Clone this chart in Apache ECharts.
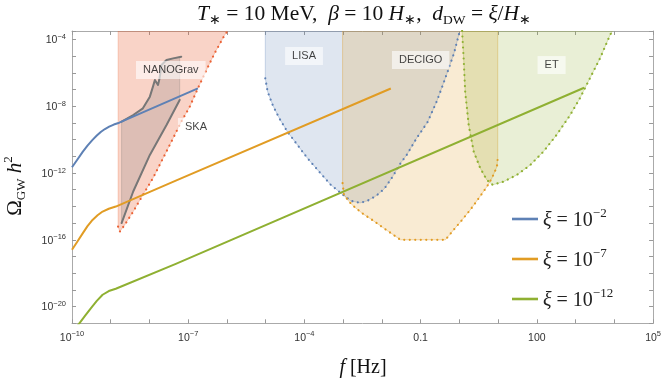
<!DOCTYPE html>
<html><head><meta charset="utf-8">
<script src="https://cdn.jsdelivr.net/npm/echarts@6/dist/echarts.min.js"></script>
<style>html,body{margin:0;padding:0;background:#fff}#c{width:664px;height:386px}</style>
</head><body><div id="c"></div>
<script>
// All values are log10: [log10(f / Hz), log10(Omega_GW h^2)]
const curveXi2  = [[-10,-11.66],[-9.86,-11.19],[-9.72,-10.72],[-9.6,-10.36],[-9.47,-10.02],[-9.36,-9.76],[-9.25,-9.53],[-9.15,-9.37],[-9.04,-9.23],[-8.92,-9.1],[-8.78,-8.99],[-6.75,-6.94]];
const curveXi7  = [[-10,-16.6],[-9.86,-16.1],[-9.72,-15.6],[-9.6,-15.18],[-9.47,-14.81],[-9.34,-14.53],[-9.21,-14.31],[-9.05,-14.14],[-8.87,-14.01],[-7.32,-12.46],[-1.77,-6.94]];
const curveXi12 = [[-10,-21.57],[-9.81,-21.0],[-9.66,-20.54],[-9.51,-20.09],[-9.36,-19.66],[-9.21,-19.29],[-9.05,-19.07],[-8.87,-18.93],[-7.32,-17.44],[3.22,-6.9]];
const legendExponents = ['−2','−7','−12'];

const skaRegion = [[-8.81,-3.5],[-8.81,-15.21],[-8.765,-15.51],[-8.64,-15.11],[-8.42,-14.31],[-8.17,-13.31],[-7.91,-12.31],[-7.65,-11.12],[-7.39,-9.92],[-7.18,-8.93],[-6.96,-8.03],[-6.75,-6.93],[-6.53,-5.84],[-6.32,-4.84],[-6.06,-3.74],[-5.98,-3.5]];
const nanogravUpper = [[-8.72,-8.93],[-8.42,-8.53],[-8.17,-8.13],[-7.99,-7.43],[-7.91,-6.83],[-7.86,-6.43],[-7.78,-6.73],[-7.74,-6.33],[-7.69,-5.54],[-7.56,-5.24],[-7.39,-5.14],[-7.18,-5.04]];
const nanogravLower = [[-8.72,-15.0],[-8.42,-13.11],[-7.99,-10.92],[-7.56,-9.13],[-7.22,-7.63]];
const lisaRegion = [[-5.01,-3.5],[-5.01,-6.33],[-4.95,-7.13],[-4.82,-7.93],[-4.65,-8.72],[-4.44,-9.53],[-4.18,-10.32],[-3.92,-11.12],[-3.62,-11.92],[-3.32,-12.71],[-3.02,-13.28],[-2.80,-13.67],[-2.56,-13.79],[-2.38,-13.67],[-2.15,-13.37],[-1.94,-12.95],[-1.73,-12.24],[-1.52,-11.42],[-1.36,-10.92],[-1.10,-9.90],[-0.82,-8.95],[-0.57,-7.63],[-0.35,-6.24],[-0.14,-4.84],[0.01,-3.5]];
const decigoRegion = [[-3.015,-3.5],[-3.015,-12.61],[-2.98,-13.31],[-2.85,-13.71],[-2.72,-14.01],[-2.51,-14.41],[-2.25,-14.81],[-1.99,-15.24],[-1.73,-15.66],[-1.52,-16.0],[-0.36,-16.0],[-0.15,-15.41],[0.07,-14.81],[0.28,-14.21],[0.50,-13.51],[0.71,-12.82],[0.84,-12.31],[0.97,-11.62],[0.99,-11.10],[0.99,-3.5]];
const etRegion = [[0.07,-3.5],[0.11,-5.14],[0.15,-7.13],[0.24,-9.13],[0.37,-10.72],[0.54,-11.72],[0.71,-12.42],[0.86,-12.71],[1.14,-12.52],[1.48,-12.12],[1.83,-11.52],[2.17,-10.72],[2.51,-9.72],[2.86,-8.53],[3.11,-7.53],[3.37,-6.33],[3.63,-5.14],[3.89,-3.74],[3.95,-3.5]];

const regionLabels = [['NANOGrav',-7.45,-5.84],['SKA',-6.80,-9.25],['LISA',-4.01,-5.0],['DECIGO',-1.0,-5.24],['ET',2.38,-5.54]];

const xTickLabels = [[-10,'10','−10'],[-7,'10','−7'],[-4,'10','−4'],[-1,'0.1',''],[2,'100',''],[5,'10','5']];
const yTickLabels = [[-20,'10','−20'],[-16,'10','−16'],[-12,'10','−12'],[-8,'10','−8'],[-4,'10','−4']];

const C = {blue:'#5e81b5', orange:'#e19c24', green:'#8fb032', red:'#eb6235', gray:'#777777'};
const SANS = 'Liberation Sans', SERIF = 'Liberation Serif';

function tickFmt(list){
  return function(v){
    const e = list.find(t => Math.abs(t[0]-v) < 1e-6);
    if(!e) return '';
    return e[2] ? '{b|'+e[1]+'}{s|'+e[2]+'}' : '{b|'+e[1]+'}';
  };
}
const tickRich = {
  b:{fontSize:10.5, fontFamily:SANS, color:'#333', lineHeight:13, verticalAlign:'bottom'},
  s:{fontSize:7.5, fontFamily:SANS, color:'#333', lineHeight:9, verticalAlign:'top'}
};

function poly(points, fill, stroke, z){
  return {type:'custom', coordinateSystem:'cartesian2d', silent:true, z:z, clip:true,
    data:[points[0]],
    renderItem:function(params, api){
      return {type:'polygon', shape:{points:points.map(p => api.coord(p))},
              style:{fill:fill, stroke:stroke, lineWidth:1}};
    }};
}
function dotted(points, color, z){
  return {type:'line', data:points, showSymbol:false, silent:true, z:z, clip:true,
    lineStyle:{color:color, width:2.2, type:[0.01,5.5], cap:'round'}};
}
function solid(points, color, width, z){
  return {type:'line', data:points, showSymbol:false, silent:true, z:z, clip:true,
    lineStyle:{color:color, width:width, cap:'round', join:'round'}};
}
function curve(name, points, color){
  return {type:'line', name:name, data:points, showSymbol:false, silent:true, z:10, clip:true,
    color:color, lineStyle:{color:color, width:2, join:'round'}};
}

const nanoPoly = nanogravUpper.slice(0,-1).concat([[-7.22,-5.05]], nanogravLower.slice().reverse());

const chart = echarts.init(document.getElementById('c'), null, {renderer:'canvas'});
chart.setOption({
  animation:false,
  backgroundColor:'#fff',
  grid:{left:72, top:31, width:583, height:292.3, containLabel:false},
  xAxis:[
    {type:'value', min:-10, max:5, interval:1, position:'bottom',
     axisLine:{onZero:false, lineStyle:{color:'#aaaaaa', width:1}},
     axisTick:{inside:true, length:4, lineStyle:{color:'#999'}},
     axisLabel:{formatter:tickFmt(xTickLabels), margin:7, rich:tickRich, showMinLabel:true, showMaxLabel:true},
     splitLine:{show:false}},
    {type:'value', min:-10, max:5, interval:1, position:'top',
     axisLine:{onZero:false, lineStyle:{color:'#aaaaaa', width:1}},
     axisTick:{inside:true, length:4, lineStyle:{color:'#999'}},
     axisLabel:{show:false}, splitLine:{show:false}}
  ],
  yAxis:[
    {type:'value', min:-21, max:-3.5, interval:1, position:'left',
     axisLine:{onZero:false, lineStyle:{color:'#aaaaaa', width:1}},
     axisTick:{inside:true, length:4, lineStyle:{color:'#999'}},
     axisLabel:{formatter:tickFmt(yTickLabels), margin:6, rich:tickRich, showMinLabel:true, showMaxLabel:true},
     splitLine:{show:false}},
    {type:'value', min:-21, max:-3.5, interval:1, position:'right',
     axisLine:{onZero:false, lineStyle:{color:'#aaaaaa', width:1}},
     axisTick:{inside:true, length:4, lineStyle:{color:'#999'}},
     axisLabel:{show:false}, splitLine:{show:false}}
  ],
  legend:{
    data:['xi2','xi7','xi12'], orient:'vertical', left:507, top:202, itemWidth:26, itemHeight:2.6,
    itemGap:16, icon:'rect', selectedMode:false,
    formatter:function(n){
      const i = ['xi2','xi7','xi12'].indexOf(n);
      return '{i|ξ}{r| = 10}{s|'+legendExponents[i]+'}';
    },
    textStyle:{rich:{
      i:{fontFamily:SERIF, fontStyle:'italic', fontSize:20, lineHeight:24, color:'#222', verticalAlign:'bottom'},
      r:{fontFamily:SERIF, fontSize:20, lineHeight:24, color:'#222', verticalAlign:'bottom'},
      s:{fontFamily:SERIF, fontSize:13, lineHeight:14, color:'#222', verticalAlign:'top'}
    }}
  },
  graphic:[
    {type:'text', x:364, y:15, z:50, style:{
      text:'{i|T}{sb|∗}{r| = 10 MeV,  }{i|β}{r| = 10 }{i|H}{sb|∗}{r|,  }{i|d}{sb|DW}{r| = }{i|ξ}{r|/}{i|H}{sb|∗}',
      align:'center', verticalAlign:'middle',
      rich:{
        i:{fontFamily:SERIF, fontStyle:'italic', fontSize:21.5, lineHeight:24, fill:'#111', verticalAlign:'top'},
        r:{fontFamily:SERIF, fontSize:21.5, lineHeight:24, fill:'#111', verticalAlign:'top'},
        sb:{fontFamily:SERIF, fontSize:13.5, lineHeight:14, fill:'#111', verticalAlign:'bottom'}
      }}},
    {type:'text', x:15, y:186, rotation:Math.PI/2, z:50, style:{
      text:'{r|Ω}{sb|GW}{i| h}{sp|2}', align:'center', verticalAlign:'middle',
      rich:{
        i:{fontFamily:SERIF, fontStyle:'italic', fontSize:21, lineHeight:26, fill:'#111', verticalAlign:'middle'},
        r:{fontFamily:SERIF, fontSize:21, lineHeight:26, fill:'#111', verticalAlign:'middle'},
        sb:{fontFamily:SERIF, fontSize:13, lineHeight:13, fill:'#111', verticalAlign:'bottom'},
        sp:{fontFamily:SERIF, fontSize:13, lineHeight:13, fill:'#111', verticalAlign:'top'}
      }}},
    {type:'text', x:363, y:368, z:50, style:{
      text:'{i|f}{r| [Hz]}', align:'center', verticalAlign:'middle',
      rich:{
        i:{fontFamily:SERIF, fontStyle:'italic', fontSize:20, fill:'#111'},
        r:{fontFamily:SERIF, fontSize:20, fill:'#111'}
      }}}
  ],
  series:[
    poly(skaRegion, 'rgba(235,98,53,0.28)', 'rgba(235,98,53,0.25)', 1),
    poly(nanoPoly, 'rgba(110,110,110,0.2)', 'rgba(110,110,110,0.25)', 2),
    poly(lisaRegion, 'rgba(94,129,181,0.2)', 'rgba(94,129,181,0.3)', 1),
    poly(decigoRegion, 'rgba(225,156,36,0.2)', 'rgba(225,156,36,0.35)', 2),
    poly(etRegion, 'rgba(143,176,50,0.2)', 'rgba(143,176,50,0.3)', 3),
    dotted(skaRegion.slice(1), C.red, 5),
    dotted(lisaRegion.slice(1), C.blue, 5),
    dotted(decigoRegion.slice(1,-1), C.orange, 5),
    dotted(etRegion, C.green, 5),
    solid(nanogravUpper, C.gray, 2, 6),
    solid(nanogravLower, C.gray, 2, 6),
    curve('xi2', curveXi2, C.blue),
    curve('xi7', curveXi7, C.orange),
    curve('xi12', curveXi12, C.green),
    {type:'scatter', silent:true, z:20, symbolSize:0,
     data:regionLabels.map(l => ({name:l[0], value:[l[1], l[2]]})),
     label:{show:true, position:'inside', formatter:'{b}', fontFamily:SANS, fontSize:11, color:'#111',
            backgroundColor:'rgba(255,255,255,0.75)', padding:[4,7,3,7]}}
  ]
});
</script>
</body></html>
